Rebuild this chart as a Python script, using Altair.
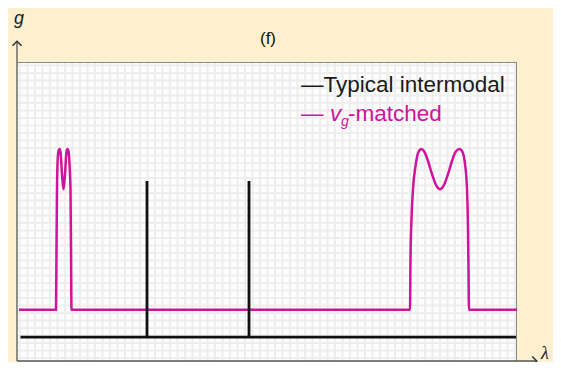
import altair as alt
import numpy as np
import pandas as pd

# ---- data ----
magenta_x = [0.4, 7.8, 7.9, 8.0, 8.1, 8.3, 8.5, 8.7, 9.0, 9.3, 9.6, 9.9, 10.1, 10.3, 10.5, 10.7, 10.8, 10.9,
             78.6, 78.7, 78.9, 79.2, 79.7, 80.3, 80.9, 81.5, 82.2, 83.0, 83.8, 84.6, 85.4, 86.2, 87.0, 87.7,
             88.5, 89.1, 89.6, 90.0, 90.2, 90.3, 90.4, 100.0]
magenta_y = [17.1, 17.1, 37.5, 57.5, 65.9, 70.2, 70.9, 69.9, 62.5, 57.4, 62.5, 69.9, 70.9, 70.2, 65.9, 57.5, 37.5, 17.1,
             17.1, 34.1, 47.5, 57.5, 65.2, 69.9, 70.9, 69.9, 66.9, 62.5, 58.9, 57.4, 58.9, 62.5, 66.9, 69.9,
             70.9, 69.9, 65.9, 57.5, 44.1, 30.8, 17.1, 17.1]
black_x = [0.7, 26.0, 26.0, 26.0, 46.4, 46.4, 46.4, 99.8]
black_y = [8.0, 8.0, 60.2, 8.0, 8.0, 60.2, 8.0, 8.0]

series_names = ["Typical intermodal", "matched"]
axis_names = ["g", "λ"]
panel_label = "(f)"

MAG = "#CF139D"
BG = "#FDF0CF"

W, H = 500, 299

# ---- decorative background grid (styling only) ----
gx = [float(v) for v in np.round((np.arange(0, W, 7.5) + 3.0) / W * 100, 3)]
gy = [float(v) for v in np.round((np.arange(0, H, 7.5) + 3.0) / H * 100, 3)]

xs = alt.Scale(domain=[0, 100], nice=False, zero=False)
ys = alt.Scale(domain=[0, 100], nice=False, zero=False)

df_m = pd.DataFrame({"x": magenta_x, "y": magenta_y, "i": range(len(magenta_x))})
df_b = pd.DataFrame({"x": black_x, "y": black_y, "i": range(len(black_x))})
one = pd.DataFrame({"a": [0]})

grid_v = alt.Chart(pd.DataFrame({"gx": gx})).mark_rule(color="#EEEEEE", strokeWidth=2).encode(
    x=alt.X("gx:Q", scale=xs, axis=None))
grid_h = alt.Chart(pd.DataFrame({"gy": gy})).mark_rule(color="#EEEEEE", strokeWidth=2).encode(
    y=alt.Y("gy:Q", scale=ys, axis=None))

mag = alt.Chart(df_m).mark_line(color=MAG, strokeWidth=2.5, interpolate="monotone").encode(
    x=alt.X("x:Q", scale=xs, axis=None),
    y=alt.Y("y:Q", scale=ys, axis=None),
    order="i:Q",
)
blk = alt.Chart(df_b).mark_line(color="#111111", strokeWidth=2.8, interpolate="linear").encode(
    x=alt.X("x:Q", scale=xs, axis=None), y=alt.Y("y:Q", scale=ys, axis=None), order="i:Q"
)

# frame, axes lines and arrows
top_border = alt.Chart(one).mark_rule(color="#8A8A8A", strokeWidth=1).encode(
    x=alt.value(0), x2=alt.value(W), y=alt.value(0.5))
right_border = alt.Chart(one).mark_rule(color="#8A8A8A", strokeWidth=1).encode(
    x=alt.value(W - 0.5), y=alt.value(0), y2=alt.value(H))
left_axis = alt.Chart(one).mark_rule(color="#555555", strokeWidth=1.3).encode(
    x=alt.value(0), y=alt.value(-20), y2=alt.value(H))
bottom_axis = alt.Chart(one).mark_rule(color="#555555", strokeWidth=1.3).encode(
    x=alt.value(0), x2=alt.value(519), y=alt.value(H))
up_arrow = alt.Chart(one).mark_point(shape="M -1 0.5 L 0 -0.5 L 1 0.5", filled=False, size=81,
                                     color="#333333", strokeWidth=1.5, opacity=1).encode(
    x=alt.value(0), y=alt.value(-18.5))
right_arrow = alt.Chart(one).mark_point(shape="M -0.5 -1 L 0.5 0 L -0.5 1", filled=False, size=81,
                                        color="#333333", strokeWidth=1.5, opacity=1).encode(
    x=alt.value(517.5), y=alt.value(H))

g_label = alt.Chart(one).mark_text(text=axis_names[0], font="Liberation Sans", fontStyle="italic",
                                   fontSize=18, align="left", baseline="alphabetic", color="#222222").encode(
    x=alt.value(-3), y=alt.value(-38.5))
lam_label = alt.Chart(one).mark_text(text=axis_names[1], font="Liberation Serif", fontStyle="italic",
                                     fontSize=18, align="left", baseline="alphabetic", color="#222222").encode(
    x=alt.value(524), y=alt.value(296.5))
title = alt.Chart(one).mark_text(text=panel_label, font="Liberation Sans", fontSize=17, align="center",
                                 baseline="alphabetic", color="#111111").encode(
    x=alt.value(251), y=alt.value(-18))

FS = 22.5
leg1 = alt.Chart(one).mark_text(text="—" + series_names[0], font="Liberation Sans", fontSize=FS,
                                align="left", baseline="alphabetic", color="#1a1a1a").encode(
    x=alt.value(284), y=alt.value(29.5))
leg2a = alt.Chart(one).mark_text(text="—", font="Liberation Sans", fontSize=FS,
                                 align="left", baseline="alphabetic", color=MAG).encode(
    x=alt.value(284), y=alt.value(59))
leg2b = alt.Chart(one).mark_text(text="v", font="Liberation Sans", fontSize=FS, fontStyle="italic",
                                 align="left", baseline="alphabetic", color=MAG).encode(
    x=alt.value(313), y=alt.value(59))
leg2c = alt.Chart(one).mark_text(text="g", font="Liberation Sans", fontSize=14, fontStyle="italic",
                                 align="left", baseline="alphabetic", color=MAG).encode(
    x=alt.value(324), y=alt.value(64))
leg2d = alt.Chart(one).mark_text(text="-" + series_names[1], font="Liberation Sans", fontSize=FS,
                                 align="left", baseline="alphabetic", color=MAG).encode(
    x=alt.value(331), y=alt.value(59))

chart = alt.layer(
    grid_v, grid_h, top_border, right_border, mag, blk, left_axis, bottom_axis, up_arrow, right_arrow,
    g_label, lam_label, title, leg1, leg2a, leg2b, leg2c, leg2d
).properties(
    width=W, height=H,
    autosize=alt.AutoSizeParams(type="none"),
    padding={"left": 9, "top": 54, "right": 36, "bottom": 1},
    background=BG,
).configure_view(
    fill="#FDFDFD", stroke=None
)

chart.save("out.html", embed_options={"renderer": "svg", "actions": False})
